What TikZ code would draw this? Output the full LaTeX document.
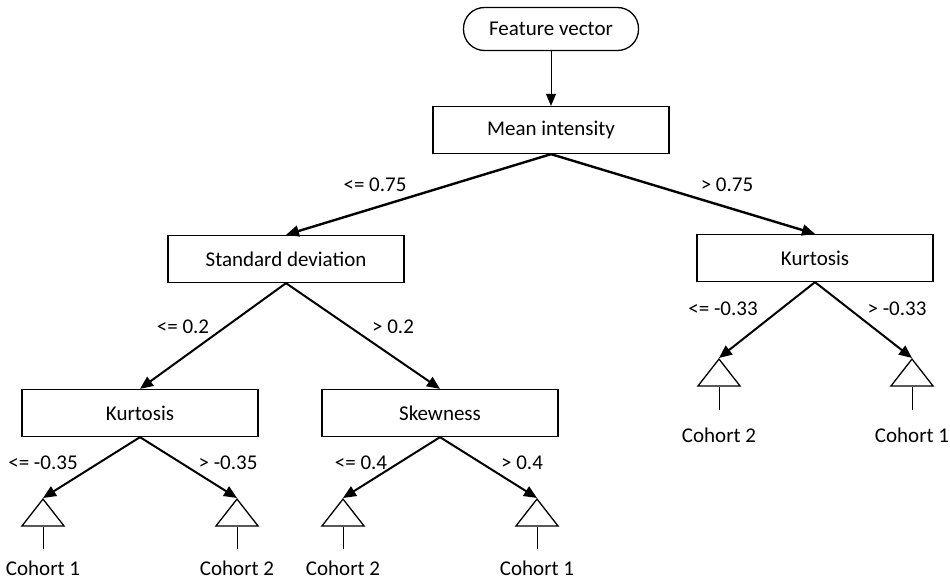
\documentclass[tikz,border=0pt]{standalone}
\usepackage{fontspec}
\setmainfont{Carlito}
\usetikzlibrary{arrows.meta,shapes.geometric}
\begin{document}
\begin{tikzpicture}[x=1pt,y=-1pt,
  every node/.style={font=\fontsize{21}{25}\selectfont},
  box/.style={draw,line width=1.3pt,minimum width=236pt,minimum height=47pt,inner sep=0pt},
  term/.style={draw,line width=1.3pt,rounded corners=21pt,minimum width=175pt,minimum height=43pt,inner sep=0pt},
  leaf/.style={draw,line width=1.3pt,isosceles triangle,isosceles triangle apex angle=76,shape border rotate=90,minimum height=27pt,minimum width=42pt,inner sep=0pt,anchor=apex},
  edge/.style={line width=2pt,-{Triangle[length=13pt,width=11pt]}},
  lab/.style={inner sep=0pt},
  stem/.style={line width=0.8pt}]
\useasboundingbox (0,0) rectangle (950,580);
\node[term] (fv) at (551,29) {Feature vector};
\node[box] (mi) at (551,130) {Mean intensity};
\node[box] (sd) at (286,259) {Standard deviation};
\node[box] (kr) at (815,258) {Kurtosis};
\node[box] (kl) at (140,413) {Kurtosis};
\node[box] (sk) at (440,413) {Skewness};
\node[leaf] (t1) at (43,498) {};
\node[leaf] (t2) at (237,498) {};
\node[leaf] (t3) at (343,498) {};
\node[leaf] (t4) at (537,498) {};
\node[leaf] (t5) at (719,358) {};
\node[leaf] (t6) at (912,358) {};
\coordinate (e1) at (43,549);
\coordinate (e2) at (237,549);
\coordinate (e3) at (343,549);
\coordinate (e4) at (537,549);
\coordinate (e5) at (719,410);
\coordinate (e6) at (912,410);
\node (c1) at (43,568) {Cohort 1};
\node (c2) at (237,568) {Cohort 2};
\node (c3) at (343,568) {Cohort 2};
\node (c4) at (537,568) {Cohort 1};
\node (c5) at (719,435) {Cohort 2};
\node (c6) at (912,435) {Cohort 1};
\draw[line width=1pt,-{Triangle[length=12pt,width=10pt]}] (fv.south) -- (mi.north);
\draw[edge,line width=2.4pt] (mi.south) -- (sd.north);
\draw[edge,line width=2.4pt] (mi.south) -- (kr.north);
\draw[edge] (sd.south) -- (kl.north);
\draw[edge] (sd.south) -- (sk.north);
\draw[edge] (kl.south) -- (t1.apex);
\draw[edge] (kl.south) -- (t2.apex);
\draw[edge] (sk.south) -- (t3.apex);
\draw[edge] (sk.south) -- (t4.apex);
\draw[edge] (kr.south) -- (t5.apex);
\draw[edge] (kr.south) -- (t6.apex);
\foreach \i in {1,...,6} {\draw[stem] (t\i.south) -- (e\i);}
\node[lab] (l1) at (375,185) {<= 0.75};
\node[lab] (l2) at (727,185) {> 0.75};
\node[lab] (l3) at (183,327) {<= 0.2};
\node[lab] (l4) at (393,327) {> 0.2};
\node[lab] (l5) at (43,463) {<= -0.35};
\node[lab] (l6) at (228,463) {> -0.35};
\node[lab] (l7) at (361,463) {<= 0.4};
\node[lab] (l8) at (522,463) {> 0.4};
\node[lab] (l9) at (723,309) {<= -0.33};
\node[lab] (l10) at (897,309) {> -0.33};
\end{tikzpicture}
\end{document}
